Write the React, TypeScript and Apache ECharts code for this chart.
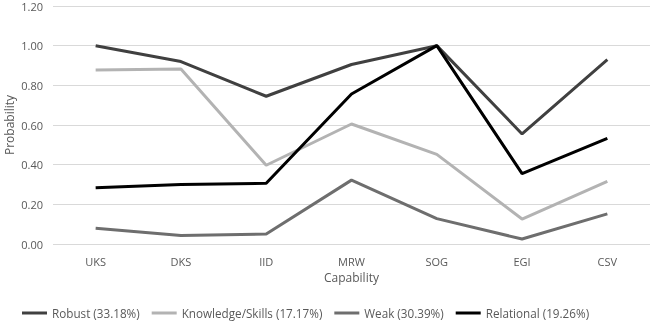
import React, { useEffect, useRef } from "react";
import * as echarts from "echarts";

const categories = ["UKS", "DKS", "IID", "MRW", "SOG", "EGI", "CSV"];
const robust = [1.0, 0.92, 0.745, 0.905, 1.0, 0.555, 0.93];
const knowledge = [0.877, 0.882, 0.397, 0.605, 0.452, 0.126, 0.316];
const weak = [0.079, 0.043, 0.05, 0.322, 0.128, 0.025, 0.152];
const relational = [0.284, 0.3, 0.306, 0.756, 1.0, 0.355, 0.533];
const seriesNames = [
  "Robust (33.18%)",
  "Knowledge/Skills (17.17%)",
  "Weak (30.39%)",
  "Relational (19.26%)",
];
const colors = ["#404040", "#b3b3b3", "#6e6e6e", "#000000"];

export default function App() {
  const ref = useRef<HTMLDivElement>(null);
  useEffect(() => {
    const chart = echarts.init(ref.current!, null, { renderer: "svg" });
    const font = "'Open Sans', 'Noto Sans', sans-serif";
    const data = [robust, knowledge, weak, relational];
    chart.setOption({
      animation: false,
      textStyle: { fontFamily: font },
      grid: {
        left: 53,
        right: 2,
        top: 6,
        bottom: 83,
        containLabel: false,
        outerBoundsMode: "none",
      },
      legend: {
        left: 17,
        top: 302,
        itemWidth: 25,
        itemHeight: 3,
        itemGap: 12,
        icon: "rect",
        textStyle: { fontFamily: font, fontSize: 11.7, color: "#595959" },
        data: seriesNames,
      },
      xAxis: {
        type: "category",
        data: categories,
        boundaryGap: true,
        name: "Capability",
        nameLocation: "middle",
        nameGap: 27,
        nameMoveOverlap: false,
        nameTextStyle: { fontFamily: font, fontSize: 12, color: "#595959" },
        axisLine: { show: false },
        axisTick: { show: false },
        axisLabel: { fontFamily: font, fontSize: 11, color: "#595959", margin: 12 },
      },
      yAxis: {
        type: "value",
        min: 0,
        max: 1.2,
        interval: 0.2,
        name: "Probability",
        nameLocation: "middle",
        nameGap: 38,
        nameMoveOverlap: false,
        nameTextStyle: { fontFamily: font, fontSize: 12, color: "#595959" },
        axisLabel: {
          fontFamily: font,
          fontSize: 11,
          color: "#595959",
          margin: 10,
          formatter: (v: number) => v.toFixed(2),
        },
        splitLine: { lineStyle: { color: "#d9d9d9", width: 1 } },
      },
      series: seriesNames.map((n, i) => ({
        name: n,
        type: "line",
        data: data[i],
        symbol: "none",
        color: colors[i],
        lineStyle: { width: 3, color: colors[i] },
      })),
    });
    return () => chart.dispose();
  }, []);
  return (
    <div
      ref={ref}
      style={{ position: "fixed", left: 0, top: 0, width: 652, height: 327 }}
    />
  );
}
